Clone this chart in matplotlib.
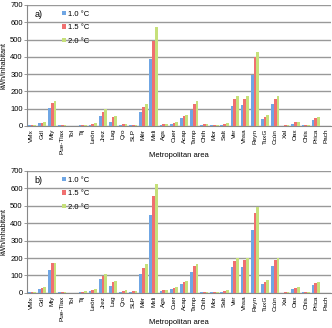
import numpy as np
import matplotlib.pyplot as plt

areas = ['VMx', 'Gdl', 'Mty', 'Pue-Tlax', 'Tol', 'Tij', 'León', 'Jrez', 'Lag', 'Qro',
         'SLP', 'Mér', 'Mxli', 'Ags', 'Cuer', 'Acap', 'Tamp', 'Chih', 'Mor', 'Salt',
         'Ver', 'Vhsa', 'Reyn', 'TuxG', 'Ccún', 'Xal', 'Oax', 'Chis', 'Prica', 'Pach']

# panel a)
a_10 = [3, 16, 102, 3, 1, 4, 8, 60, 25, 6, 4, 83, 386, 8, 14, 44, 92, 8, 3, 8,
        118, 121, 295, 40, 125, 2, 12, 4, 33, 1]
a_15 = [4, 19, 135, 3, 2, 6, 12, 83, 50, 10, 6, 112, 493, 10, 18, 58, 127, 10, 5, 12,
        156, 158, 397, 54, 156, 3, 20, 6, 48, 1]
a_20 = [5, 25, 145, 4, 2, 8, 15, 98, 56, 12, 8, 127, 570, 14, 22, 64, 144, 10, 5, 15,
        173, 176, 430, 62, 175, 3, 23, 6, 54, 1]

# panel b)
b_10 = [5, 22, 130, 3, 1, 5, 12, 77, 42, 8, 6, 111, 447, 9, 23, 50, 119, 6, 4, 8,
        150, 150, 360, 50, 153, 2, 23, 6, 44, 1]
b_15 = [7, 28, 169, 5, 2, 8, 18, 96, 60, 12, 9, 144, 556, 14, 30, 65, 153, 8, 6, 12,
        184, 188, 457, 65, 188, 3, 29, 8, 54, 2]
b_20 = [8, 33, 172, 5, 2, 12, 22, 111, 71, 15, 10, 163, 623, 18, 36, 68, 165, 8, 6, 14,
        198, 200, 495, 73, 203, 3, 35, 8, 63, 2]

labels = ['1.0 °C', '1.5 °C', '2.0 °C']
colors = ['#6fa6e4', '#f07070', '#c6e07a']


def draw_panel(ax, series, tag):
    x = np.arange(len(areas))
    w = 0.27
    for i, (vals, lab, c) in enumerate(zip(series, labels, colors)):
        ax.bar(x + (i - 1) * w, vals, width=w, color=c, label=lab, zorder=3)
    ax.set_xlim(-0.5, len(areas) - 0.5)
    ax.set_ylim(0, 700)
    ax.set_yticks(range(0, 701, 100))
    ax.yaxis.grid(True, color='#999999', linewidth=1.0, zorder=0)
    ax.set_axisbelow(True)
    ax.set_xticks(x)
    ax.set_xticklabels(areas, rotation=90, fontsize=4.6, family='Liberation Sans')
    ax.tick_params(axis='y', labelsize=5.5, length=2, width=0.6, color='#888888', pad=1)
    ax.tick_params(axis='x', length=0, pad=2)
    for t in ax.get_yticklabels():
        t.set_family('Liberation Sans')
    for s in ['top', 'right']:
        ax.spines[s].set_visible(False)
    ax.spines['left'].set_color('#888888')
    ax.spines['bottom'].set_color('#888888')
    ax.spines['left'].set_linewidth(0.8)
    ax.spines['bottom'].set_linewidth(0.8)
    ax.set_ylabel('kWh/inhabitant', fontsize=5, family='Liberation Sans', labelpad=2)
    ax.set_xlabel('Metropolitan area', fontsize=5.5, family='Liberation Sans', va='center')
    ax.xaxis.set_label_coords(0.5, -0.245)
    ax.text(0.025, 0.96, tag, transform=ax.transAxes, fontsize=6.5,
            family='Liberation Sans', va='top')
    ax.legend(loc='upper left', bbox_to_anchor=(0.1, 0.99), frameon=False,
              prop={'family': 'Liberation Sans', 'size': 5.5},
              handlelength=0.5, handleheight=0.5, labelspacing=0.85,
              handletextpad=0.3, borderaxespad=0.2)


fig = plt.figure(figsize=(3.32, 3.28), dpi=100)
ax_a = fig.add_axes([0.081, 0.616, 0.916, 0.369])
ax_b = fig.add_axes([0.081, 0.107, 0.916, 0.372])
draw_panel(ax_a, [a_10, a_15, a_20], 'a)')
draw_panel(ax_b, [b_10, b_15, b_20], 'b)')

fig.savefig('out.png', dpi=100)
